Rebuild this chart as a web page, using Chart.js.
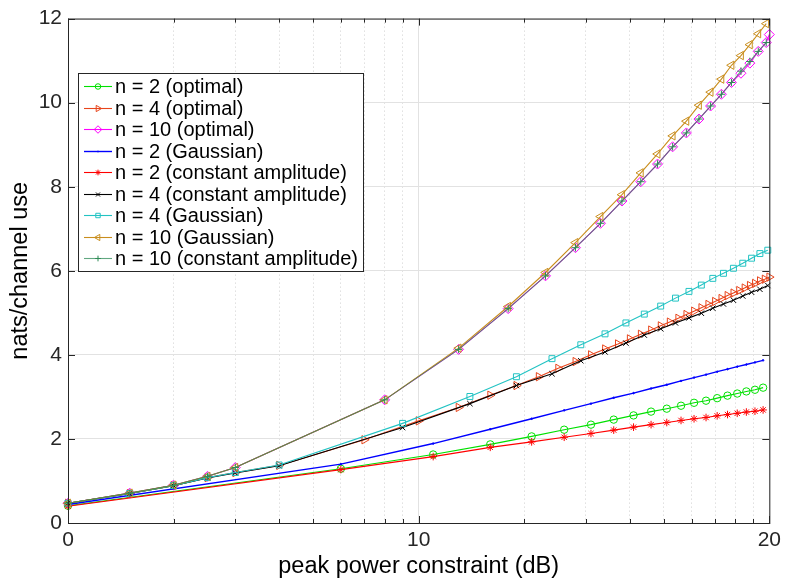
<!DOCTYPE html>
<html>
<head>
<meta charset="utf-8">
<title>nats/channel use vs peak power constraint</title>
<script src="https://cdn.jsdelivr.net/npm/chart.js@4.4.1/dist/chart.umd.min.js"></script>
<style>
  html, body { margin: 0; padding: 0; background: #fff; }
</style>
</head>
<body>
<canvas id="capacity" width="786" height="584"></canvas>
<script>
// peak power as a linear ratio; the axis is labelled in dB
const powerN2 = [1, 6, 11, 16, 21, 26, 31, 36, 41, 46, 51, 56, 61, 66, 71, 76, 81, 86, 91, 96];
const powerN4 = [1, 1.5, 2, 2.5, 3, 4, 9, 14, 19, 24, 29, 34, 39, 44, 49, 54, 59, 64, 69, 74, 79, 84, 89, 94, 99];
const powerN4opt = [1, 1.5, 2, 2.5, 3, 4, 7, 10, 13, 16, 19, 22, 25, 28, 31, 34, 37, 40, 43, 46, 49, 52,
  55, 58, 61, 64, 67, 70, 73, 76, 79, 82, 85, 88, 91, 94, 97, 100];
const powerN10 = [1, 1.5, 2, 2.5, 3, 8, 13, 18, 23, 28, 33, 38, 43, 48, 53, 58, 63, 68, 73, 78, 83, 88, 93, 98];
const powerN10opt = [1, 1.5, 2, 2.5, 3, 8, 13, 18, 23, 28, 33, 38, 43, 48, 53, 58, 63, 68, 73, 78, 83, 88, 93, 98, 100];

// nats/channel use
const n2Optimal = [0.41, 1.29, 1.63, 1.87, 2.06, 2.22, 2.34, 2.46, 2.56, 2.65, 2.72, 2.79, 2.86, 2.91, 2.97,
  3.03, 3.08, 3.13, 3.17, 3.22];
const n4Optimal = [0.47, 0.70, 0.89, 1.08, 1.20, 1.37, 1.98, 2.43, 2.75, 3.04, 3.27, 3.48, 3.68, 3.84, 4.00,
  4.14, 4.26, 4.38, 4.49, 4.59, 4.69, 4.78, 4.87, 4.96, 5.04, 5.12, 5.20, 5.27, 5.34, 5.41, 5.47, 5.53,
  5.59, 5.65, 5.70, 5.76, 5.80, 5.85];
const n10Optimal = [0.47, 0.71, 0.90, 1.11, 1.32, 2.93, 4.13, 5.10, 5.88, 6.55, 7.13, 7.66, 8.12, 8.54, 8.95,
  9.28, 9.61, 9.92, 10.20, 10.48, 10.70, 10.94, 11.22, 11.43, 11.62];
const n2Gaussian = [0.44, 1.40, 1.89, 2.23, 2.48, 2.68, 2.84, 2.98, 3.09, 3.20, 3.29, 3.38, 3.46, 3.53, 3.60,
  3.66, 3.72, 3.77, 3.82, 3.87];
const n2Constant = [0.40, 1.27, 1.58, 1.80, 1.93, 2.04, 2.13, 2.21, 2.28, 2.34, 2.39, 2.44, 2.48, 2.51, 2.55,
  2.58, 2.61, 2.64, 2.66, 2.69];
const n4Constant = [0.47, 0.70, 0.89, 1.07, 1.19, 1.36, 2.27, 2.84, 3.27, 3.55, 3.86, 4.07, 4.28, 4.47, 4.62,
  4.76, 4.88, 4.99, 5.11, 5.21, 5.30, 5.40, 5.49, 5.56, 5.65];
const n4Gaussian = [0.47, 0.70, 0.89, 1.08, 1.20, 1.38, 2.37, 3.01, 3.48, 3.91, 4.24, 4.50, 4.76, 4.97, 5.16,
  5.35, 5.51, 5.66, 5.82, 5.94, 6.06, 6.18, 6.30, 6.41, 6.49];
const n10Gaussian = [0.47, 0.71, 0.90, 1.11, 1.32, 2.93, 4.16, 5.15, 5.96, 6.67, 7.29, 7.81, 8.33, 8.78, 9.21,
  9.56, 9.94, 10.25, 10.56, 10.89, 11.12, 11.38, 11.64, 11.88];
const n10Constant = [0.47, 0.71, 0.90, 1.11, 1.32, 2.93, 4.13, 5.10, 5.88, 6.55, 7.13, 7.66, 8.12, 8.54, 8.95,
  9.28, 9.61, 9.92, 10.20, 10.48, 10.75, 10.98, 11.22, 11.43];

// axis ticks
const majorPowers = [1, 10, 100];
const xTickLabels = ['0', '10', '20'];
const gridPowers = [1, 2, 3, 4, 5, 6, 7, 8, 9, 10, 20, 30, 40, 50, 60, 70, 80, 90, 100];
const yTicks = [0, 2, 4, 6, 8, 10, 12];

const FONT = '"Liberation Sans", Arial, Helvetica, sans-serif';
const AXIS_COLOR = '#262626';

function series(label, xs, ys, color, marker) {
  return Object.assign({
    label: label,
    data: xs.map((p, i) => ({ x: p, y: ys[i] })),
    borderColor: color,
    backgroundColor: color,
    borderWidth: 1.1,
    pointBorderColor: color,
    pointBackgroundColor: 'rgba(0,0,0,0)',
    pointBorderWidth: 1,
    pointRadius: 3.5,
    tension: 0,
    clip: 8
  }, marker);
}

const datasets = [
  series('n = 2 (optimal)', powerN2, n2Optimal, '#00e000', { pointStyle: 'circle', pointRadius: 3.7 }),
  series('n = 4 (optimal)', powerN4opt, n4Optimal, '#e8451c', { pointStyle: 'triangle', pointRotation: 90, pointRadius: 4.8 }),
  series('n = 10 (optimal)', powerN10opt, n10Optimal, '#ff00ff', { pointStyle: 'rectRot', pointRadius: 5 }),
  series('n = 2 (Gaussian)', powerN2, n2Gaussian, '#0000ff', { pointStyle: 'circle', pointRadius: 0.8, pointBackgroundColor: '#0000ff', borderWidth: 1.4 }),
  series('n = 2 (constant amplitude)', powerN2, n2Constant, '#ff0000', { pointStyle: 'star', pointRadius: 3.8 }),
  series('n = 4 (constant amplitude)', powerN4, n4Constant, '#000000', { pointStyle: 'crossRot', pointRadius: 3.8 }),
  series('n = 4 (Gaussian)', powerN4, n4Gaussian, '#22c3c3', { pointStyle: 'rect', pointRadius: 4.2 }),
  series('n = 10 (Gaussian)', powerN10, n10Gaussian, '#c98e1e', { pointStyle: 'triangle', pointRotation: -90, pointRadius: 4.8 }),
  series('n = 10 (constant amplitude)', powerN10, n10Constant, '#2e8b57', { pointStyle: 'cross', pointRadius: 3.8, borderColor: 'rgba(46,139,87,0.75)' })
];
// later series are drawn on top
datasets.forEach((d, i) => { d.order = datasets.length - i; });

const isMajor = v => majorPowers.indexOf(v) !== -1;

// box around the axes with inward ticks on all four sides
const frameTicks = {
  id: 'frameTicks',
  afterDatasetsDraw(chart) {
    const { ctx, chartArea: a, scales: { x, y } } = chart;
    ctx.save();
    ctx.strokeStyle = AXIS_COLOR;
    ctx.lineWidth = 1;
    ctx.beginPath();
    x.ticks.forEach(t => {
      const px = Math.round(x.getPixelForValue(t.value)) + 0.5;
      const len = isMajor(t.value) ? 7 : 4;
      ctx.moveTo(px, a.bottom); ctx.lineTo(px, a.bottom - len);
      ctx.moveTo(px, a.top); ctx.lineTo(px, a.top + len);
    });
    y.ticks.forEach(t => {
      const py = Math.round(y.getPixelForValue(t.value)) + 0.5;
      ctx.moveTo(a.left, py); ctx.lineTo(a.left + 7, py);
      ctx.moveTo(a.right, py); ctx.lineTo(a.right - 7, py);
    });
    ctx.stroke();
    ctx.strokeRect(a.left + 0.5, a.top + 0.5, a.right - a.left, a.bottom - a.top);
    ctx.restore();
  }
};

// boxed legend inside the plot, line sample with the marker in the middle
const boxLegend = {
  id: 'boxLegend',
  afterDraw(chart) {
    const ctx = chart.ctx;
    const left = 78, top = 73, width = 285, height = 198, row = 21.5;
    ctx.save();
    ctx.fillStyle = '#ffffff';
    ctx.fillRect(left, top, width, height);
    ctx.strokeStyle = '#262626';
    ctx.lineWidth = 1;
    ctx.strokeRect(left + 0.5, top + 0.5, width, height);
    ctx.font = '20px ' + FONT;
    ctx.textBaseline = 'middle';
    chart.data.datasets.forEach((d, i) => {
      const cy = Math.round(top + 13 + row * i) + 0.5;
      ctx.strokeStyle = d.borderColor;
      ctx.lineWidth = d.borderWidth;
      ctx.beginPath();
      ctx.moveTo(84, cy); ctx.lineTo(112, cy);
      ctx.stroke();
      ctx.strokeStyle = d.pointBorderColor;
      ctx.fillStyle = d.pointBackgroundColor;
      ctx.lineWidth = 1;
      Chart.helpers.drawPoint(ctx, {
        pointStyle: d.pointStyle,
        rotation: d.pointRotation || 0,
        radius: d.pointRadius * 0.75,
        borderWidth: 1
      }, 98, cy);
      ctx.fillStyle = '#000000';
      ctx.fillText(d.label, 115, cy + 1);
    });
    ctx.restore();
  }
};

new Chart(document.getElementById('capacity'), {
  type: 'line',
  data: { datasets: datasets },
  plugins: [frameTicks, boxLegend],
  options: {
    responsive: false,
    devicePixelRatio: 1,
    animation: false,
    events: [],
    layout: { padding: { top: 16, right: 14, left: 0, bottom: 0 } },
    plugins: {
      legend: { display: false },
      tooltip: { enabled: false }
    },
    scales: {
      x: {
        type: 'logarithmic',
        min: 1,
        max: 100,
        afterBuildTicks: s => { s.ticks = gridPowers.map(v => ({ value: v })); },
        afterFit: s => { s.height = 61; },
        grid: {
          drawTicks: false,
          lineWidth: 1,
          color: ctx => isMajor(ctx.tick.value) ? '#e2e2e2' : '#cfcfcf'
        },
        border: {
          display: false,
          dash: ctx => isMajor(ctx.tick.value) ? [] : [1, 3]
        },
        ticks: {
          autoSkip: false,
          maxRotation: 0,
          padding: 5,
          color: AXIS_COLOR,
          font: { family: FONT, size: 21 },
          callback: v => {
            const k = majorPowers.indexOf(v);
            return k === -1 ? '' : xTickLabels[k];
          }
        },
        title: {
          display: true,
          text: 'peak power constraint (dB)',
          color: '#000000',
          font: { family: FONT, size: 23.5 },
          padding: { top: 0, bottom: 3 }
        }
      },
      y: {
        min: 0,
        max: 12,
        afterBuildTicks: s => { s.ticks = yTicks.map(v => ({ value: v })); },
        afterFit: s => { s.width = 68; },
        grid: { drawTicks: false, lineWidth: 1, color: '#e2e2e2' },
        border: { display: false },
        ticks: {
          padding: 6,
          color: AXIS_COLOR,
          font: { family: FONT, size: 21 }
        },
        title: {
          display: true,
          text: 'nats/channel use',
          color: '#000000',
          font: { family: FONT, size: 23.5 },
          padding: { top: 6, bottom: 0 }
        }
      }
    }
  }
});
</script>
</body>
</html>
